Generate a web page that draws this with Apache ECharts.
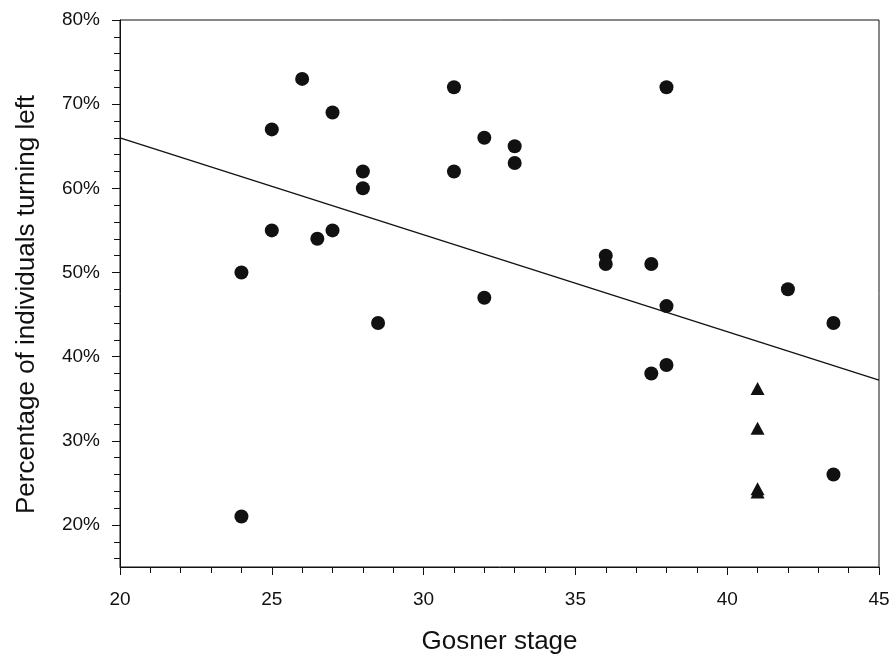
<!DOCTYPE html>
<html>
<head>
<meta charset="utf-8">
<script src="https://cdn.jsdelivr.net/npm/echarts@6/dist/echarts.min.js"></script>
<style>html,body{margin:0;padding:0;background:#fff}#c{width:895px;height:660px}</style>
</head>
<body>
<div id="c"></div>
<script>
// Circles: [Gosner stage, % turning left]
const circleStage = [24, 24, 25, 25, 26, 26.5, 27, 27, 28, 28, 28.5, 31, 31, 32, 32, 33, 33, 36, 36, 37.5, 37.5, 38, 38, 38, 42, 43.5, 43.5];
const circlePct   = [50, 21, 67, 55, 73, 54, 69, 55, 62, 60, 44, 72, 62, 66, 47, 65, 63, 52, 51, 51, 38, 72, 46, 39, 48, 44, 26];
// Triangles
const triStage = [41, 41, 41, 41];
const triPct   = [36.2, 31.5, 24.3, 23.9];
// Regression line end points
const lineStage = [20, 45];
const linePct   = [66, 37.2];
// Tick values
const yMajorTicks = [20, 30, 40, 50, 60, 70, 80];
const yMinorTicks = [16, 18, 22, 24, 26, 28, 32, 34, 36, 38, 42, 44, 46, 48, 52, 54, 56, 58, 62, 64, 66, 68, 72, 74, 76, 78];

const font = 'Liberation Sans, Arial, sans-serif';
const ink = '#111';

const chart = echarts.init(document.getElementById('c'), null, {renderer: 'canvas'});
chart.setOption({
  animation: false,
  backgroundColor: '#fff',
  grid: {left: 120, right: 16, top: 20, bottom: 92, show: true, borderColor: ink, borderWidth: 1, backgroundColor: 'transparent'},
  xAxis: {
    type: 'value', min: 20, max: 45, interval: 5,
    name: 'Gosner stage', nameLocation: 'middle', nameGap: 62,
    nameTextStyle: {fontFamily: font, fontSize: 26, color: ink},
    axisLine: {show: true, lineStyle: {color: ink, width: 1}},
    axisTick: {show: true, inside: false, length: 8, lineStyle: {color: ink, width: 1}},
    minorTick: {show: true, splitNumber: 5, length: 6, lineStyle: {color: ink, width: 1}},
    axisLabel: {fontFamily: font, fontSize: 19, color: ink, margin: 23},
    splitLine: {show: false}, minorSplitLine: {show: false}
  },
  yAxis: [{
    type: 'value', min: 15, max: 80,
    name: 'Percentage of individuals turning left', nameLocation: 'middle', nameGap: 80,
    nameTextStyle: {fontFamily: font, fontSize: 26, color: ink, padding: [0, 22, 0, 0]},
    axisLine: {show: true, lineStyle: {color: ink, width: 1}},
    axisTick: {show: true, inside: false, length: 8, customValues: yMajorTicks, lineStyle: {color: ink, width: 1}},
    axisLabel: {fontFamily: font, fontSize: 19, color: ink, margin: 20, customValues: yMajorTicks, formatter: '{value}%'},
    splitLine: {show: false}
  }, {
    type: 'value', min: 15, max: 80, position: 'left',
    axisLine: {show: false},
    axisTick: {show: true, inside: false, length: 6, customValues: yMinorTicks, lineStyle: {color: ink, width: 1}},
    axisLabel: {show: false},
    splitLine: {show: false}
  }],
  series: [{
    type: 'line', data: lineStage.map((s, i) => [s, linePct[i]]),
    showSymbol: false, symbol: 'none', lineStyle: {color: ink, width: 1.3}, z: 1
  }, {
    type: 'scatter', data: circleStage.map((s, i) => [s, circlePct[i]]),
    symbol: 'circle', symbolSize: 14, itemStyle: {color: ink, opacity: 1}, z: 3
  }, {
    type: 'scatter', data: triStage.map((s, i) => [s, triPct[i]]),
    symbol: 'triangle', symbolSize: [14, 13], itemStyle: {color: ink, opacity: 1}, z: 3
  }]
});
</script>
</body>
</html>
